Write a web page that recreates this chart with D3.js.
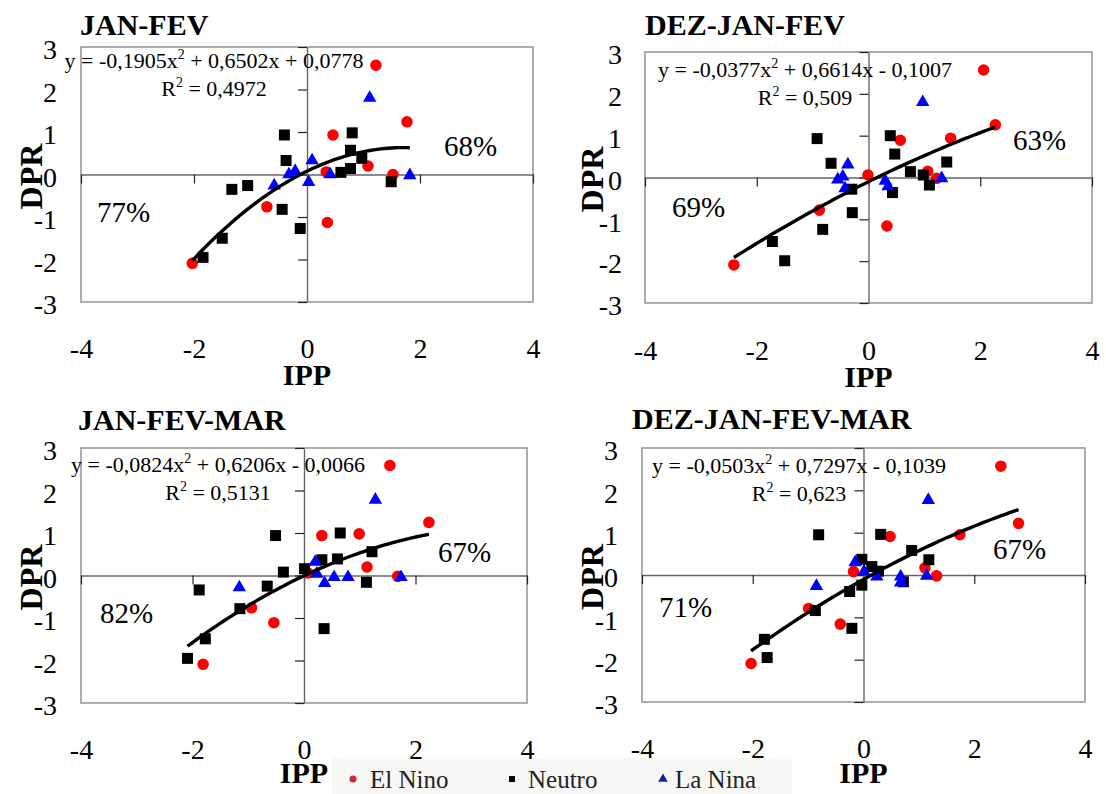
<!DOCTYPE html>
<html><head><meta charset="utf-8">
<script src="https://cdn.jsdelivr.net/npm/d3@7"></script>
<style>body{margin:0;background:#fff}svg{display:block}</style>
</head><body>
<svg id="c" width="1106" height="794"></svg>
<script>
// ---------- DATA ----------
const titles = ["JAN-FEV", "DEZ-JAN-FEV", "JAN-FEV-MAR", "DEZ-JAN-FEV-MAR"];
const xTicks = [-4, -2, 0, 2, 4];
const yTicks = [-3, -2, -1, 0, 1, 2, 3];
const seriesNames = ["El Nino", "Neutro", "La Nina"];
const pctLeft = ["77%", "69%", "82%", "71%"];
const pctRight = ["68%", "63%", "67%", "67%"];
const eqCoef = [[-0.1905, 0.6502, 0.0778], [-0.0377, 0.6614, -0.1007], [-0.0824, 0.6206, -0.0066], [-0.0503, 0.7297, -0.1039]];
const eqText = [["y = -0,1905x", " + 0,6502x + 0,0778"], ["y = -0,0377x", " + 0,6614x - 0,1007"], ["y = -0,0824x", " + 0,6206x - 0,0066"], ["y = -0,0503x", " + 0,7297x - 0,1039"]];
const r2Text = ["0,4972", "0,509", "0,5131", "0,623"];

// JAN-FEV
const jfElNino = [[1.22,2.57],[1.77,1.24],[0.46,0.93],[1.08,0.2],[0.34,0.06],[1.52,0.0],[-0.71,-0.76],[0.36,-1.13],[-2.03,-2.09]];
const jfNeutro = [[-0.40,0.93],[0.80,0.98],[-0.37,0.33],[0.77,0.57],[0.97,0.38],[0.77,0.14],[0.60,0.05],[1.49,-0.17],[-1.33,-0.35],[-1.05,-0.26],[-0.44,-0.82],[-0.12,-1.27],[-1.50,-1.50],[-1.84,-1.95]];
const jfLaNina = [[1.11,1.80],[0.09,0.33],[-0.21,0.08],[-0.32,0.0],[-0.58,-0.26],[0.03,-0.18],[0.41,0.0],[1.82,-0.02]];
// DEZ-JAN-FEV
const djfElNino = [[2.06,2.57],[2.27,1.26],[1.47,0.94],[0.57,0.89],[1.06,0.15],[1.22,-0.02],[-0.01,0.06],[-0.88,-0.78],[0.33,-1.16],[-2.41,-2.09]];
const djfNeutro = [[-0.92,0.93],[0.39,1.00],[0.47,0.56],[-0.67,0.34],[1.40,0.37],[0.75,0.14],[0.98,0.06],[1.09,-0.18],[-0.30,-0.28],[0.43,-0.36],[-0.29,-0.84],[-0.82,-1.24],[-1.72,-1.53],[-1.50,-1.99]];
const djfLaNina = [[0.97,1.80],[-0.37,0.31],[-0.46,0.02],[-0.55,-0.05],[-0.42,-0.26],[0.30,-0.08],[0.35,-0.21],[1.31,-0.02]];
// JAN-FEV-MAR
const jfmElNino = [[1.54,2.59],[2.24,1.25],[0.32,0.94],[0.99,0.98],[1.13,0.20],[1.68,-0.02],[0.07,0.06],[-0.94,-0.76],[-0.54,-1.11],[-1.81,-2.09]];
const jfmNeutro = [[-0.51,0.94],[0.65,1.00],[0.60,0.39],[0.32,0.37],[1.22,0.56],[0.01,0.16],[-0.37,0.08],[1.12,-0.16],[-0.66,-0.25],[-1.88,-0.34],[-1.15,-0.78],[0.36,-1.25],[-1.77,-1.49],[-2.09,-1.95]];
const jfmLaNina = [[1.28,1.78],[0.20,0.32],[0.23,0.04],[0.37,-0.18],[0.54,-0.04],[0.79,-0.04],[1.74,-0.04],[-1.16,-0.28]];
// DEZ-JAN-FEV-MAR
const djfmElNino = [[2.48,2.57],[2.80,1.22],[1.74,0.95],[0.48,0.91],[1.11,0.17],[1.32,-0.02],[-0.18,0.08],[-0.99,-0.79],[-0.42,-1.16],[-2.03,-2.09]];
const djfmNeutro = [[-0.81,0.95],[0.31,0.96],[0.87,0.58],[1.18,0.36],[-0.03,0.37],[0.15,0.20],[0.27,0.09],[-0.03,-0.24],[0.72,-0.16],[-0.25,-0.39],[-0.87,-0.84],[-0.21,-1.26],[-1.79,-1.52],[-1.74,-1.95]];
const djfmLaNina = [[1.17,1.77],[-0.15,0.30],[0.01,0.08],[0.24,-0.04],[0.67,-0.04],[0.67,-0.18],[1.14,-0.02],[-0.85,-0.26]];

const panelData = [
  [jfElNino, jfNeutro, jfLaNina],
  [djfElNino, djfNeutro, djfLaNina],
  [jfmElNino, jfmNeutro, jfmLaNina],
  [djfmElNino, djfmNeutro, djfmLaNina]
];

// ---------- LAYOUT ----------
const layout = [
  {l:81, r:533, t:47, b:302, titleX:80, titleY:35, eqX:214, eqY:68, ylabX:57, xlabY:358, ippY:385, dprX:42, pl:[97,222], pr:[444,156]},
  {l:645, r:1092, t:52, b:303, titleX:645, titleY:35, eqX:805, eqY:77, ylabX:622, xlabY:360, ippY:387, dprX:603, pl:[672,217], pr:[1013,150]},
  {l:81, r:527, t:448, b:703, titleX:78, titleY:430, eqX:218, eqY:472, ylabX:57, xlabY:759, ippY:783, dprX:42, pl:[100,623], pr:[438,562]},
  {l:642, r:1085, t:448, b:702, titleX:632, titleY:429, eqX:799, eqY:473, ylabX:618, xlabY:758, ippY:783, dprX:603, pl:[659,617], pr:[993,559]}
];
const colors = ["#ff0000", "#000000", "#0000ff"];
const SERIF = '"Liberation Serif"';

const svg = d3.select("#c");
function txt(parent) {
  return parent.append("text").style("font-family", SERIF).attr("fill", "#000");
}

// legend background
svg.append("rect").attr("x", 332).attr("y", 758).attr("width", 460).attr("height", 36).attr("fill", "#f7f7f5");

layout.forEach((L, i) => {
  const g = svg.append("g");
  const x = d3.scaleLinear().domain([-4, 4]).range([L.l, L.r]);
  const y = d3.scaleLinear().domain([-3, 3]).range([L.b, L.t]);

  // frame
  g.append("rect").attr("x", L.l).attr("y", L.t).attr("width", L.r - L.l).attr("height", L.b - L.t)
    .attr("fill", "none").attr("stroke", "#9a9a9a").attr("stroke-width", 1.6);

  // zero axes with ticks
  const ax = g.append("g").attr("transform", `translate(0,${y(0)})`)
    .call(d3.axisBottom(x).tickValues(xTicks).tickSize(9).tickSizeOuter(0).tickFormat(""));
  const ay = g.append("g").attr("transform", `translate(${x(0)},0)`)
    .call(d3.axisLeft(y).tickValues(yTicks).tickSize(9).tickSizeOuter(0).tickFormat(""));
  [ax, ay].forEach(a => {
    a.selectAll("path").attr("stroke", "#666").attr("stroke-width", 1.4);
    a.selectAll("line").attr("stroke", "#222").attr("stroke-width", 1.2);
  });

  // tick labels
  const xl = g.append("g").attr("transform", `translate(0,${L.xlabY})`)
    .call(d3.axisBottom(x).tickValues(xTicks).tickSize(0).tickFormat(d => String(d)));
  xl.select(".domain").remove();
  xl.selectAll("text").attr("y", 0).attr("dy", 0).attr("font-size", 28).attr("fill", "#000")
    .style("font-family", SERIF);
  const yl = g.append("g").attr("transform", `translate(${L.ylabX},0)`)
    .call(d3.axisLeft(y).tickValues(yTicks).tickSize(0).tickPadding(0).tickFormat(d => String(d)));
  yl.select(".domain").remove();
  yl.selectAll("text").attr("x", 0).attr("dy", "0.42em").attr("font-size", 28).attr("fill", "#000")
    .style("font-family", SERIF);

  // axis titles
  txt(g).attr("x", x(0)).attr("y", L.ippY).attr("text-anchor", "middle")
    .attr("font-size", 30).attr("font-weight", "bold").text("IPP");
  txt(g).attr("transform", `translate(${L.dprX},${(L.t + L.b) / 2 + 2}) rotate(-90)`)
    .attr("text-anchor", "middle").attr("font-size", 32).attr("font-weight", "bold").text("DPR");

  // panel title
  txt(g).attr("x", L.titleX).attr("y", L.titleY).attr("font-size", 30)
    .attr("font-weight", "bold").text(titles[i]);

  // points
  const sym = [d3.symbolCircle, d3.symbolSquare, d3.symbolTriangle];
  const sz = [105, 121, 78];
  panelData[i].forEach((pts, s) => {
    g.append("g").selectAll("path").data(pts).join("path")
      .attr("transform", d => `translate(${x(d[0])},${y(d[1])})`)
      .attr("d", d3.symbol().type(sym[s]).size(sz[s]))
      .attr("fill", colors[s]);
  });

  // trend line
  const all = panelData[i].flat();
  const [x0, x1] = d3.extent(all, d => d[0]);
  const c = eqCoef[i];
  const n = 60;
  const xs = d3.range(n + 1).map(k => x0 + (x1 - x0) * k / n);
  g.append("path").datum(xs)
    .attr("d", d3.line().x(v => x(v)).y(v => y(c[0] * v * v + c[1] * v + c[2])))
    .attr("fill", "none").attr("stroke", "#000").attr("stroke-width", 3.4);

  // equation text
  const eq = txt(g).attr("x", L.eqX).attr("y", L.eqY).attr("text-anchor", "middle").attr("font-size", 22);
  eq.append("tspan").text(eqText[i][0]);
  eq.append("tspan").attr("dy", -9).attr("font-size", 14).text("2");
  eq.append("tspan").attr("dy", 9).text(eqText[i][1]);
  const r2 = txt(g).attr("x", L.eqX).attr("y", L.eqY + 28).attr("text-anchor", "middle").attr("font-size", 22);
  r2.append("tspan").text("R");
  r2.append("tspan").attr("dy", -9).attr("font-size", 14).text("2");
  r2.append("tspan").attr("dy", 9).text(" = " + r2Text[i]);

  // percentages
  txt(g).attr("x", L.pl[0]).attr("y", L.pl[1]).attr("font-size", 29).text(pctLeft[i]);
  txt(g).attr("x", L.pr[0]).attr("y", L.pr[1]).attr("font-size", 29).text(pctRight[i]);
});

// legend
const leg = [[353, 370], [512, 528], [663, 675]];
const legSym = [d3.symbolCircle, d3.symbolSquare, d3.symbolTriangle];
const legCol = ["#c8283a", "#000", "#1a1aa8"];
const legSz = [40, 36, 40];
seriesNames.forEach((nm, s) => {
  svg.append("path").attr("transform", `translate(${leg[s][0]},${779})`)
    .attr("d", d3.symbol().type(legSym[s]).size(legSz[s])).attr("fill", legCol[s]);
  txt(svg).attr("x", leg[s][1]).attr("y", 788).attr("font-size", 25).attr("fill", "#222").text(nm);
});
</script>
</body></html>
